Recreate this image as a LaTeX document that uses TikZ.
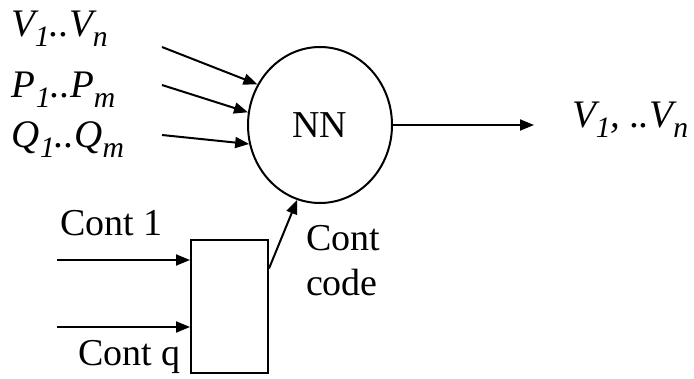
\documentclass[tikz,border=0pt]{standalone}
\usepackage{fontspec}
\setmainfont{Liberation Serif}
\usetikzlibrary{arrows.meta,shapes.geometric}
\newcommand\lsub[1]{\raisebox{-0.28em}{\scalebox{0.76}{#1}}}
\begin{document}
\begin{tikzpicture}[x=1pt,y=-1pt, line width=2pt,
  arr/.style={-{Triangle[length=14pt,width=11pt]}},
  lbl/.style={inner sep=0pt, anchor=base west, font=\fontsize{39}{42}\selectfont\itshape},
  txt/.style={inner sep=0pt, anchor=base west, font=\fontsize{38}{42}\selectfont}]
\useasboundingbox (0,0) rectangle (694,378);
\node[ellipse, draw, minimum width=144pt, minimum height=156pt, inner sep=0pt,
      font=\fontsize{38}{40}\selectfont] (nn) at (320,125) {NN};
\node[draw, minimum width=77pt, minimum height=133pt, inner sep=0pt] (box) at (229.5,306.5) {};
% input labels
\node[lbl] (v) at (10,36) {V\lsub{1}..V\lsub{n}};
\node[lbl] (p) at (11,97) {P\lsub{1}..P\lsub{m}};
\node[lbl] (q) at (11,147) {Q\lsub{1}..Q\lsub{m}};
\coordinate (s1) at (162,47);
\coordinate (s2) at (162,85);
\coordinate (s3) at (162,135);
\draw[arr] (s1) -- (nn.147);
\draw[arr] (s2) -- (nn.170);
\draw[arr] (s3) -- (nn.195);
% output
\coordinate (out) at (534,125);
\draw[arr] (nn.east) -- (out);
\node[lbl] (vo) at (571,127) {V\lsub{1}, ..V\lsub{n}};
% controls
\node[txt] (c1l) at (59,235) {Cont 1};
\node[txt] (cql) at (77,365) {Cont q};
\coordinate (c1) at (57,260);
\coordinate (cq) at (57,327);
\draw[arr] (c1) -- (c1 -| box.west);
\draw[arr] (cq) -- (cq -| box.west);
\draw[arr] ([yshift=38pt]box.east) -- (nn.253);
\node[txt] (cc1) at (305,250) {Cont};
\node[txt] (cc2) at (305,295) {code};
\end{tikzpicture}
\end{document}
